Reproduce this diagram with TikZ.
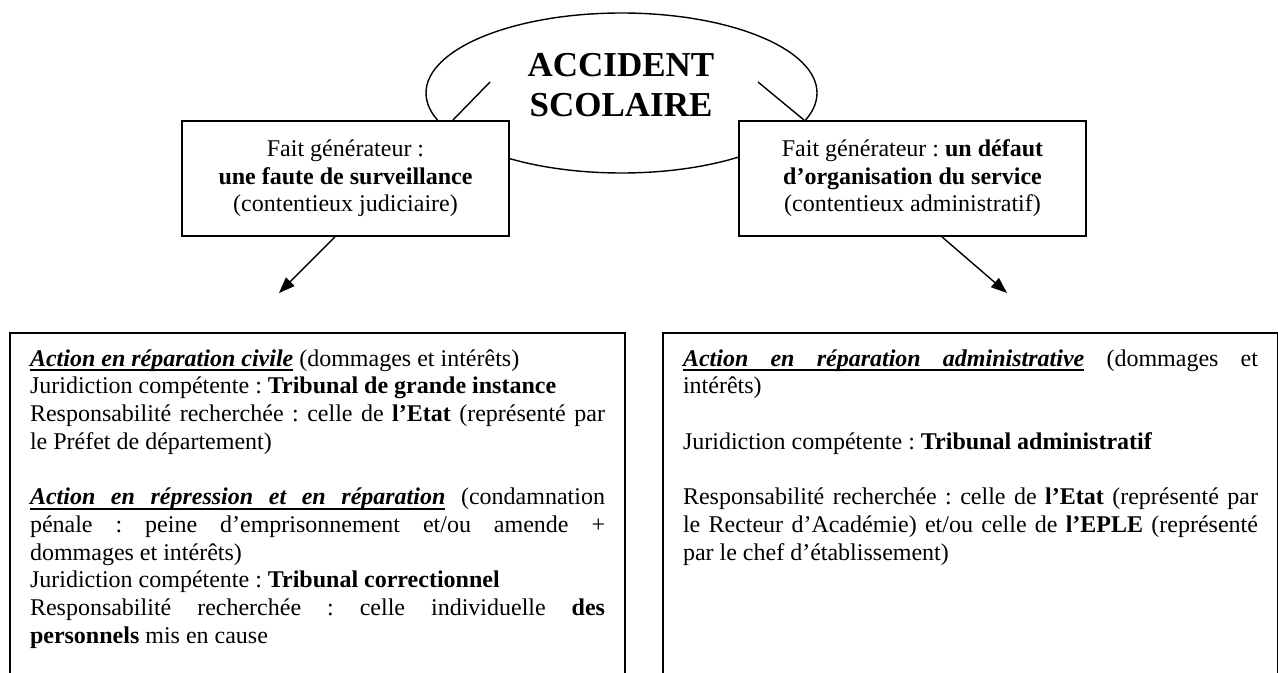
\documentclass[tikz,border=0pt]{standalone}
\usepackage{fontspec}
\setmainfont{Liberation Serif}
\usetikzlibrary{shapes.geometric,arrows.meta,calc}
\setlength{\parindent}{0pt}
\hyphenpenalty=10000
\frenchspacing
\newsavebox\ulbox
\newcommand{\ulw}[1]{\leavevmode\sbox\ulbox{#1}\rlap{\rule[-2.6pt]{\wd\ulbox}{1pt}}\usebox\ulbox}
\newcommand{\ulsp}{\leaders\hrule height -1.6pt depth 2.6pt\hskip\fontdimen2\font plus\fontdimen3\font minus\fontdimen4\font\relax}
\tikzset{
  accident/.style={draw,ellipse,line width=0.7pt,inner sep=0pt,minimum width=195.5pt,minimum height=80pt},
  titre/.style={align=center,inner sep=0pt,font=\fontsize{17.5}{20}\selectfont\bfseries},
  fait/.style={draw,fill=white,line width=0.9pt,align=center,inner sep=0pt,minimum height=57.5pt,font=\fontsize{12}{13.75}\selectfont},
  action/.style={draw,line width=1pt,anchor=north west,text width=287.5pt,inner xsep=10pt,inner ysep=8.3pt,align=justify,font=\fontsize{12}{13.85}\selectfont},
  lien/.style={line width=0.7pt},
  fleche/.style={line width=0.7pt,-{Triangle[length=8pt,width=6pt]}}
}
\begin{document}
\begin{tikzpicture}[x=0.5pt,y=-0.5pt]
\path[use as bounding box,clip] (0,0) rectangle (1278,673);
\node[accident] (acc) at (621.5,93) {};
\node[titre] (titre) at (621,85) {ACCIDENT\\SCOLAIRE};
\node[fait,minimum width=163.5pt] (faute) at (345.5,178.5) {Fait générateur :\\\textbf{une faute de surveillance}\\(contentieux judiciaire)};
\node[fait,minimum width=173.5pt] (defaut) at (912.5,178.5) {Fait générateur : \textbf{un défaut}\\\textbf{d'organisation du service}\\(contentieux administratif)};
\coordinate (accg) at (490,82);
\coordinate (accd) at (758,82);
\draw[lien] (accg) -- ($(faute.north east)+(-57,0)$);
\draw[lien] (accd) -- ($(defaut.north west)+(66,0)$);
\coordinate (civtip) at (279,293);
\coordinate (admtip) at (1007,293);
\draw[fleche] ($(faute.south)+(-10.5,0)$) -- (civtip);
\draw[fleche] ($(defaut.south)+(29.5,0)$) -- (admtip);
\node[action] (civil) at (9,332) {{\bfseries\itshape\ulw{Action}\ulsp\ulw{en}\ulsp\ulw{réparation}\ulsp\ulw{civile}} (dommages et intérêts)\par
Juridiction compétente~: \textbf{Tribunal de grande instance}\par
Responsabilité recherchée~: celle de \textbf{l'Etat} (représenté par\linebreak le Préfet de département)\par
\vspace{13.85pt}
{\bfseries\itshape\ulw{Action}\ulsp\ulw{en}\ulsp\ulw{répression}\ulsp\ulw{et}\ulsp\ulw{en}\ulsp\ulw{réparation}} (condamnation\linebreak pénale~: peine d'emprisonnement et/ou amende~+\linebreak dommages et intérêts)\par
Juridiction compétente~: \textbf{Tribunal correctionnel}\par
Responsabilité recherchée~: celle individuelle \textbf{des\linebreak personnels} mis en cause\par
\rule{0pt}{80pt}};
\node[action] (admin) at (662,332) {{\bfseries\itshape\ulw{Action}\ulsp\ulw{en}\ulsp\ulw{réparation}\ulsp\ulw{administrative}} (dommages et\linebreak intérêts)\par
\vspace{13.85pt}
Juridiction compétente~: \textbf{Tribunal administratif}\par
\vspace{13.85pt}
Responsabilité recherchée~: celle de \textbf{l'Etat} (représenté par\linebreak le Recteur d'Académie) et/ou celle de \textbf{l'EPLE} (représenté\linebreak par le chef d'établissement)\par
\rule{0pt}{80pt}};
\end{tikzpicture}
\end{document}
